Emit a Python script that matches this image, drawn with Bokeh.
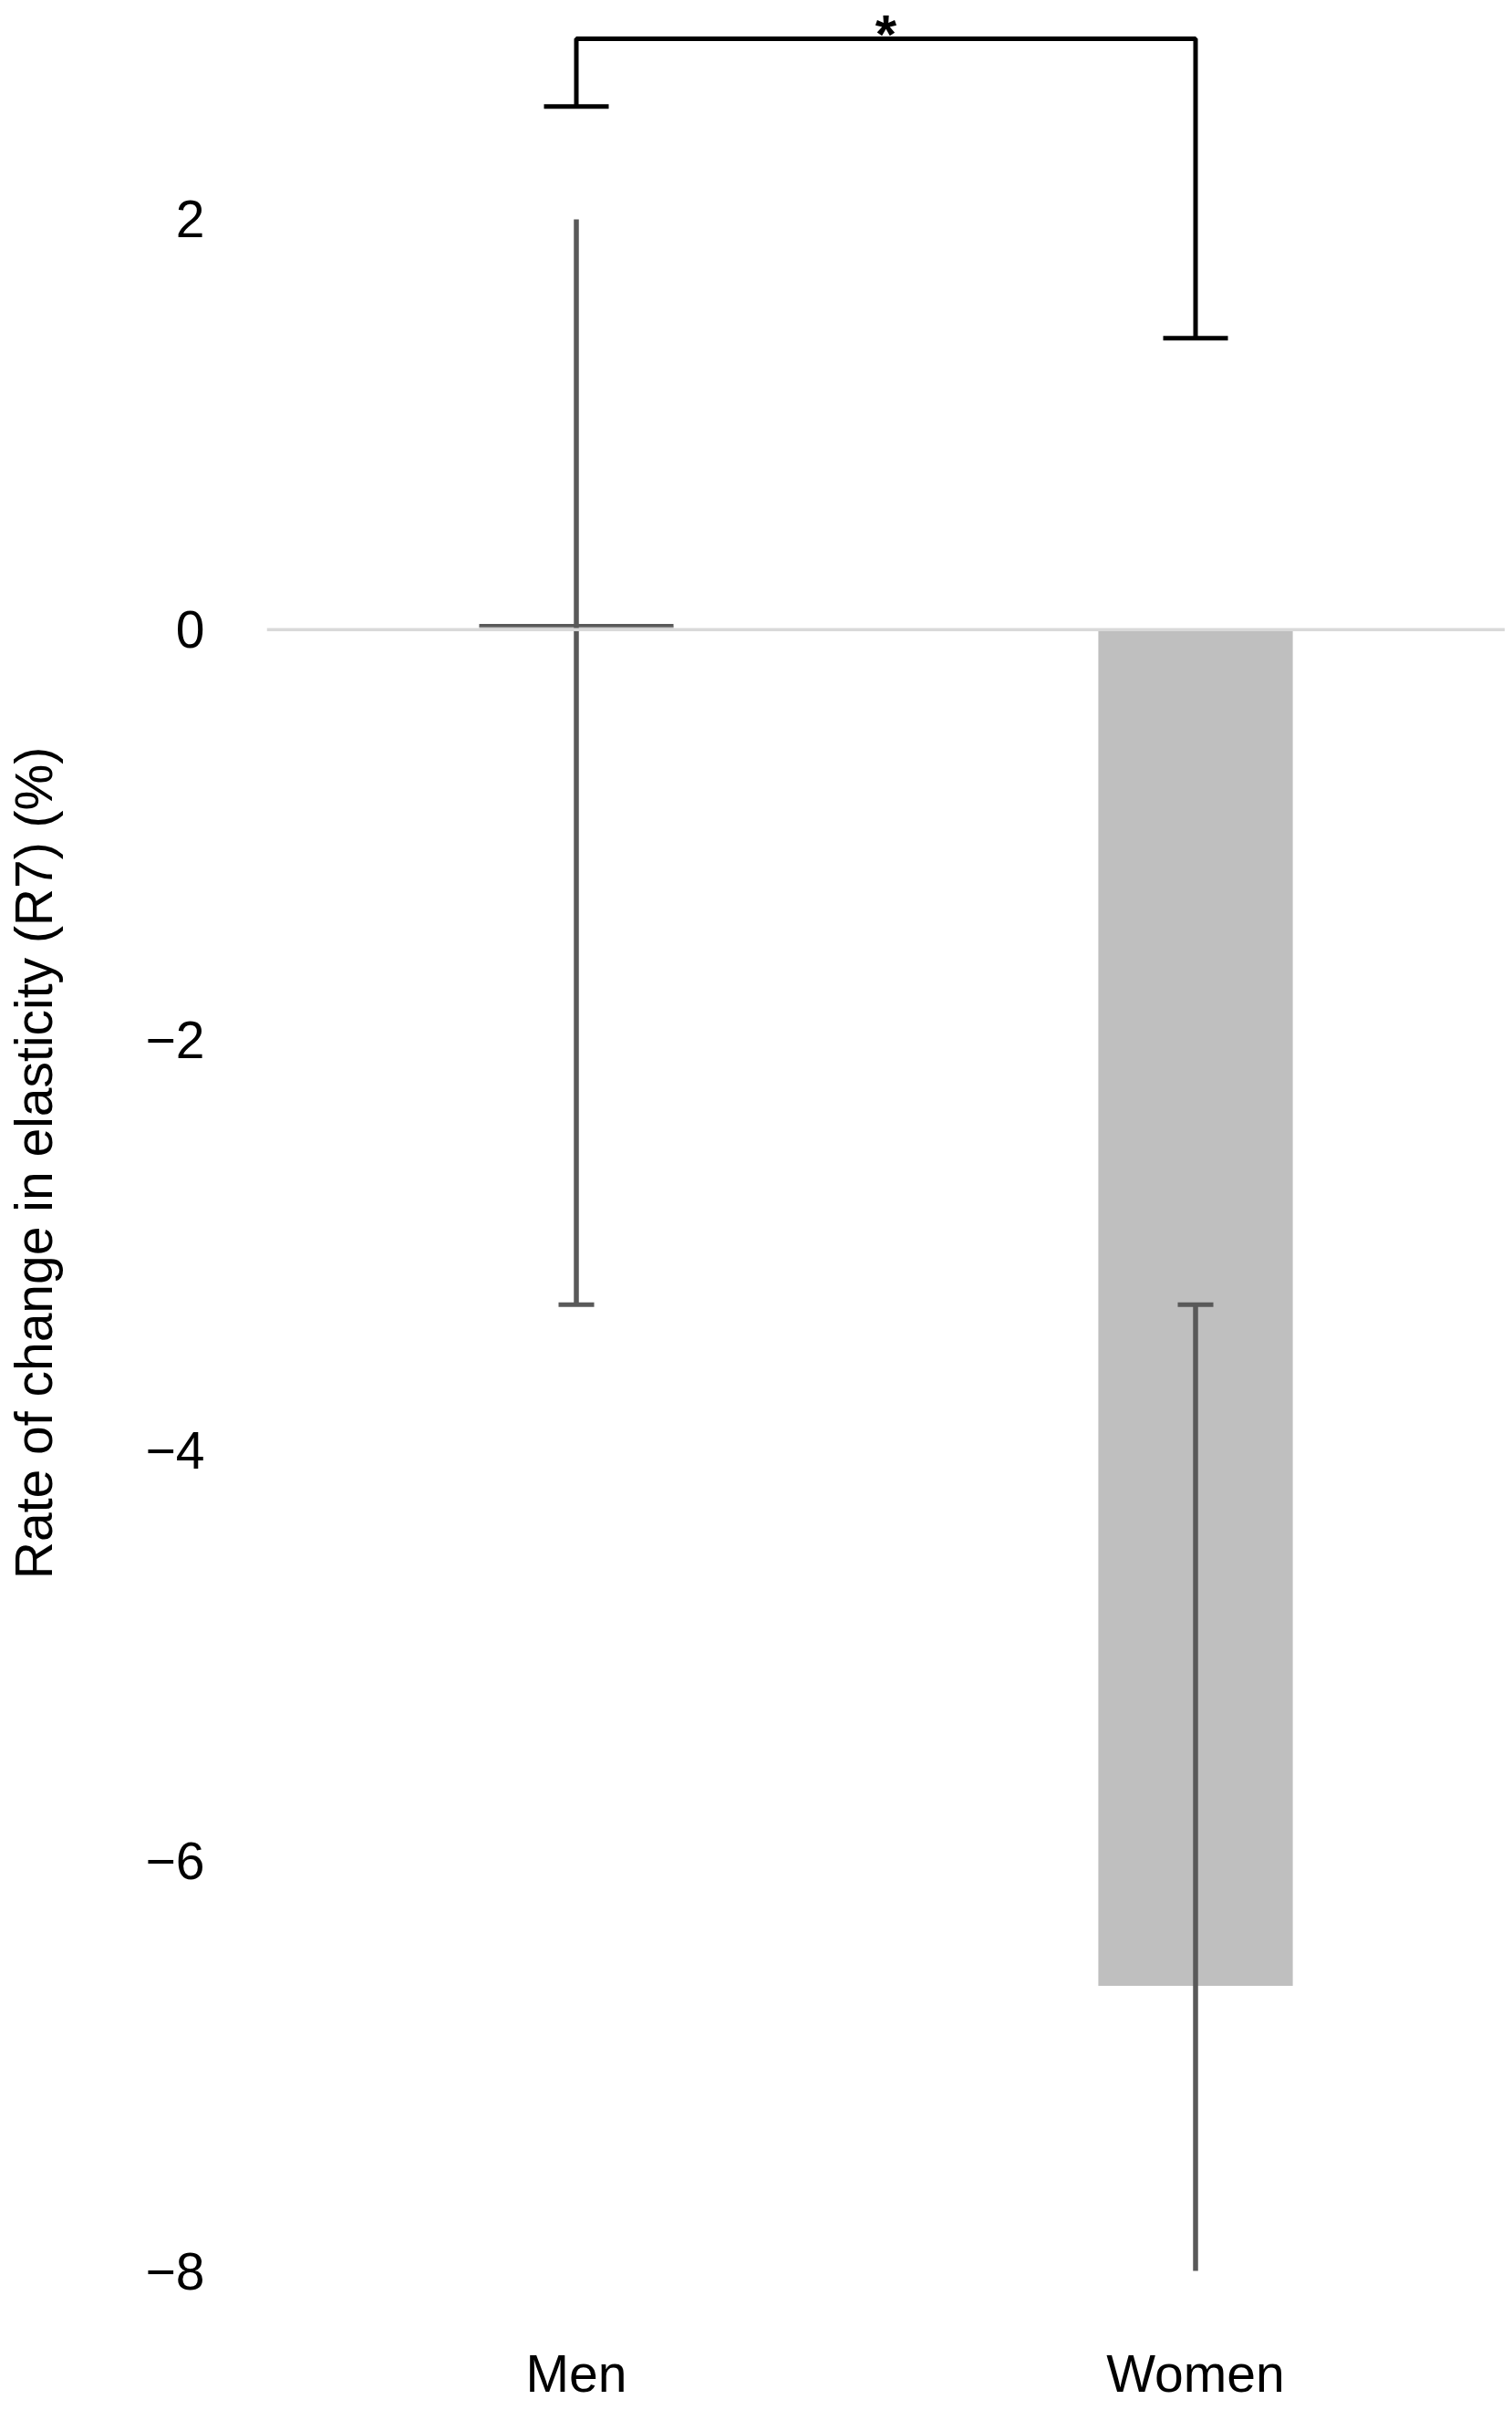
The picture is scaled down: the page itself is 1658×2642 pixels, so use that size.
from bokeh.plotting import figure
from bokeh.models import (FactorRange, Range1d, FixedTicker, CustomJSTickFormatter,
                          Span, ColumnDataSource)
from bokeh.transform import dodge
from bokeh.embed import file_html
from bokeh.resources import INLINE
from bokeh.core.properties import value

# ---- data ----
groups = ["Men", "Women"]
means = [0.02, -6.61]
err_upper = [2.00, -3.29]
err_lower = [-3.29, -8.00]
y_ticks = [-8, -6, -4, -2, 0, 2]
axis_title = "Rate of change in elasticity (R7) (%)"
# significance bracket
bracket_x = ["Men", "Men", "Women", "Women"]
bracket_y = [2.55, 2.88, 2.88, 1.42]
bracket_caps_x = ["Men", "Women"]
bracket_caps_y = [2.55, 1.42]
sig_text = "*"
sig_y = 3.05

FONT = "Liberation Sans"
W, H = 1650, 2636

p = figure(width=W, height=H, x_range=FactorRange(factors=groups, range_padding=0),
           y_range=Range1d(-8.2667, 3.0667), output_backend="svg", toolbar_location=None,
           min_border_left=292, min_border_right=0, min_border_top=0, min_border_bottom=86)
p.outline_line_color = None
p.background_fill_color = "white"
p.border_fill_color = "white"
p.grid.visible = False

# zero line
p.add_layout(Span(location=0, dimension="width", line_color="#d9d9d9", line_width=3.5))

src = ColumnDataSource(dict(x=groups, top=means, hi=err_upper, lo=err_lower))
p.vbar(x="x", top="top", bottom=0, width=0.314, source=src,
       fill_color="#bfbfbf", line_color=None)

# error bars
p.segment(x0="x", y0="lo", x1="x", y1="hi", source=src, line_color="#595959", line_width=5.5)
cap_src = ColumnDataSource(dict(x=groups, y=[err_lower[0], err_upper[1]]))
p.scatter(x="x", y="y", marker="dash", size=39, line_width=5, line_color="#595959",
          source=cap_src)
# men mean marker line
p.scatter(x=[groups[0]], y=[means[0]], marker="dash", size=213, line_width=3.5,
          line_color="#595959")

# significance bracket
p.line(x=bracket_x, y=bracket_y, line_color="black", line_width=5)
p.scatter(x=bracket_caps_x, y=bracket_caps_y, marker="dash", size=71, line_width=5,
          line_color="black")
sig_src = ColumnDataSource(dict(x=[groups[0]], y=[sig_y], t=[sig_text]))
p.text(x=dodge("x", 0.5, range=p.x_range), y="y", text="t", source=sig_src,
       text_font=value(FONT), text_font_size="60px", text_font_style="bold",
       text_align="center", text_baseline="top", text_color="black")

# axes
p.yaxis.ticker = FixedTicker(ticks=y_ticks)
p.yaxis.formatter = CustomJSTickFormatter(
    code="return tick < 0 ? '\u2212' + Math.abs(tick) : tick.toString();")
for ax in (p.xaxis[0], p.yaxis[0]):
    ax.axis_line_color = None
    ax.major_tick_line_color = None
    ax.minor_tick_line_color = None
    ax.major_tick_out = 0
    ax.major_tick_in = 0
    ax.minor_tick_out = 0
    ax.major_label_text_font = FONT
    ax.major_label_text_font_size = "57px"
    ax.major_label_text_color = "black"
p.yaxis.major_label_standoff = 68
p.xaxis.major_label_standoff = 20
p.yaxis.axis_label = axis_title
p.yaxis.axis_label_text_font = FONT
p.yaxis.axis_label_text_font_size = "57px"
p.yaxis.axis_label_text_font_style = "normal"
p.yaxis.axis_label_text_color = "black"
p.yaxis.axis_label_standoff = 88

open("out.html", "w").write(file_html(p, INLINE))
